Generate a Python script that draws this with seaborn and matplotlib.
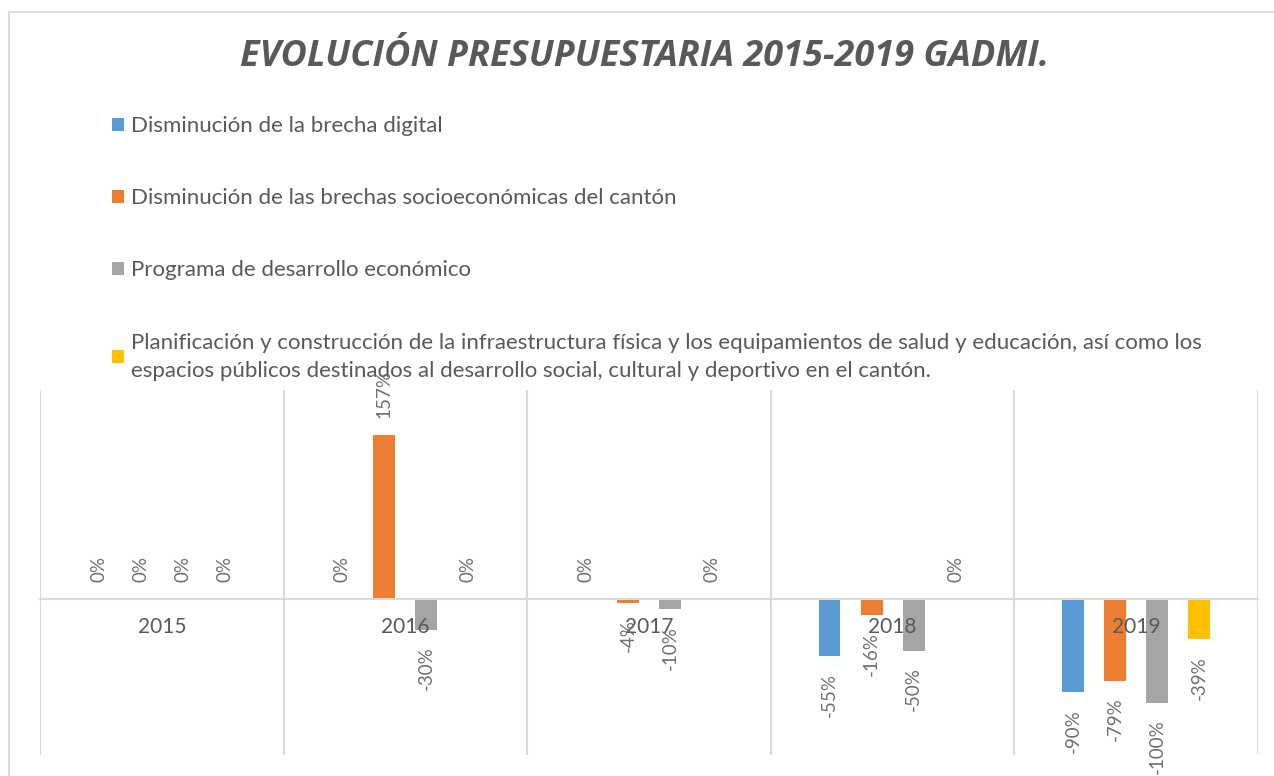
import pandas as pd
import numpy as np
import matplotlib.pyplot as plt
import matplotlib.patches as mpatches
import seaborn as sns

# Datos del gráfico (variación porcentual por programa)
anios = ['2015', '2016', '2017', '2018', '2019']
programas = [
    'Disminución de la brecha digital',
    'Disminución de las brechas socioeconómicas del cantón',
    'Programa de desarrollo económico',
    'Planificación y construcción de la infraestructura física y los equipamientos de salud y educación, así como los\n'
    'espacios públicos destinados al desarrollo social, cultural y deportivo en el cantón.',
]
brecha_digital = [0, 0, 0, -55, -90]
brechas_socioeconomicas = [0, 157, -4, -16, -79]
desarrollo_economico = [0, -30, -10, -50, -100]
infraestructura = [0, 0, 0, 0, -39]

colores = ['#5b9bd5', '#ed7d31', '#a5a5a5', '#ffc000']

series = [brecha_digital, brechas_socioeconomicas, desarrollo_economico, infraestructura]
registros = []
for prog, valores in zip(programas, series):
    for anio, v in zip(anios, valores):
        registros.append({'anio': anio, 'programa': prog, 'variacion': v})
df = pd.DataFrame(registros)

sns.set_style('white')
plt.rcParams['font.family'] = ['Lato', 'DejaVu Sans']

fig = plt.figure(figsize=(12.74, 7.76), dpi=100)
W, H = 1274, 776
ax = fig.add_axes([40 / W, (H - 755) / H, (1258 - 40) / W, (755 - 390) / H])

sns.barplot(data=df, x='anio', y='variacion', hue='programa', palette=colores,
            order=anios, hue_order=programas, width=0.69, gap=0.48,
            saturation=1, linewidth=0, ax=ax)

# Etiquetas de datos
for cont in ax.containers:
    ax.bar_label(cont, fmt='{:.0f}%', rotation=90, padding=12,
                 fontsize=13.5, color='#6f6f6f')

ax.set_ylim(-150, 200)
ax.set_xlim(-0.5, 4.5)
ax.set_xlabel('')
ax.set_ylabel('')
ax.set_yticks([])
ax.set_axisbelow(False)
for lado in ['top', 'right', 'left']:
    ax.spines[lado].set_visible(False)
ax.spines['bottom'].set_position(('data', 0))
ax.spines['bottom'].set_color('#d9d9d9')
ax.spines['bottom'].set_linewidth(1.5)
ax.tick_params(axis='x', length=0, pad=13, labelsize=15, labelcolor='#595959')
for x in np.arange(-0.5, 5, 1):
    ax.axvline(x, color='#d9d9d9', lw=1.5, zorder=0)

# Leyenda arriba
handles, labels = ax.get_legend_handles_labels()
ax.get_legend().remove()
leg = fig.legend(handles, labels, loc='upper left', bbox_to_anchor=(92 / W, 1 - 96 / H),
                 frameon=False, fontsize=16, labelcolor='#595959',
                 handlelength=0.54, handleheight=0.54, handletextpad=0.3,
                 labelspacing=2.35)
for t in leg.get_texts():
    t.set_linespacing(1.5)

# Título
fig.text(0.5 + 8 / W, 1 - 57 / H, 'EVOLUCIÓN PRESUPUESTARIA 2015-2019 GADMI.',
         ha='center', va='center', fontsize=26, fontweight='bold', fontstyle='italic',
         color='#595959', family=['Open Sans', 'DejaVu Sans'])

# Marco del gráfico
fig.patches.append(mpatches.Rectangle((9 / W, -0.1), 1.2, (H - 12) / H + 0.1,
                                      transform=fig.transFigure, fill=False,
                                      ec='#d9d9d9', lw=1.5))

plt.savefig('out.png', dpi=100)
